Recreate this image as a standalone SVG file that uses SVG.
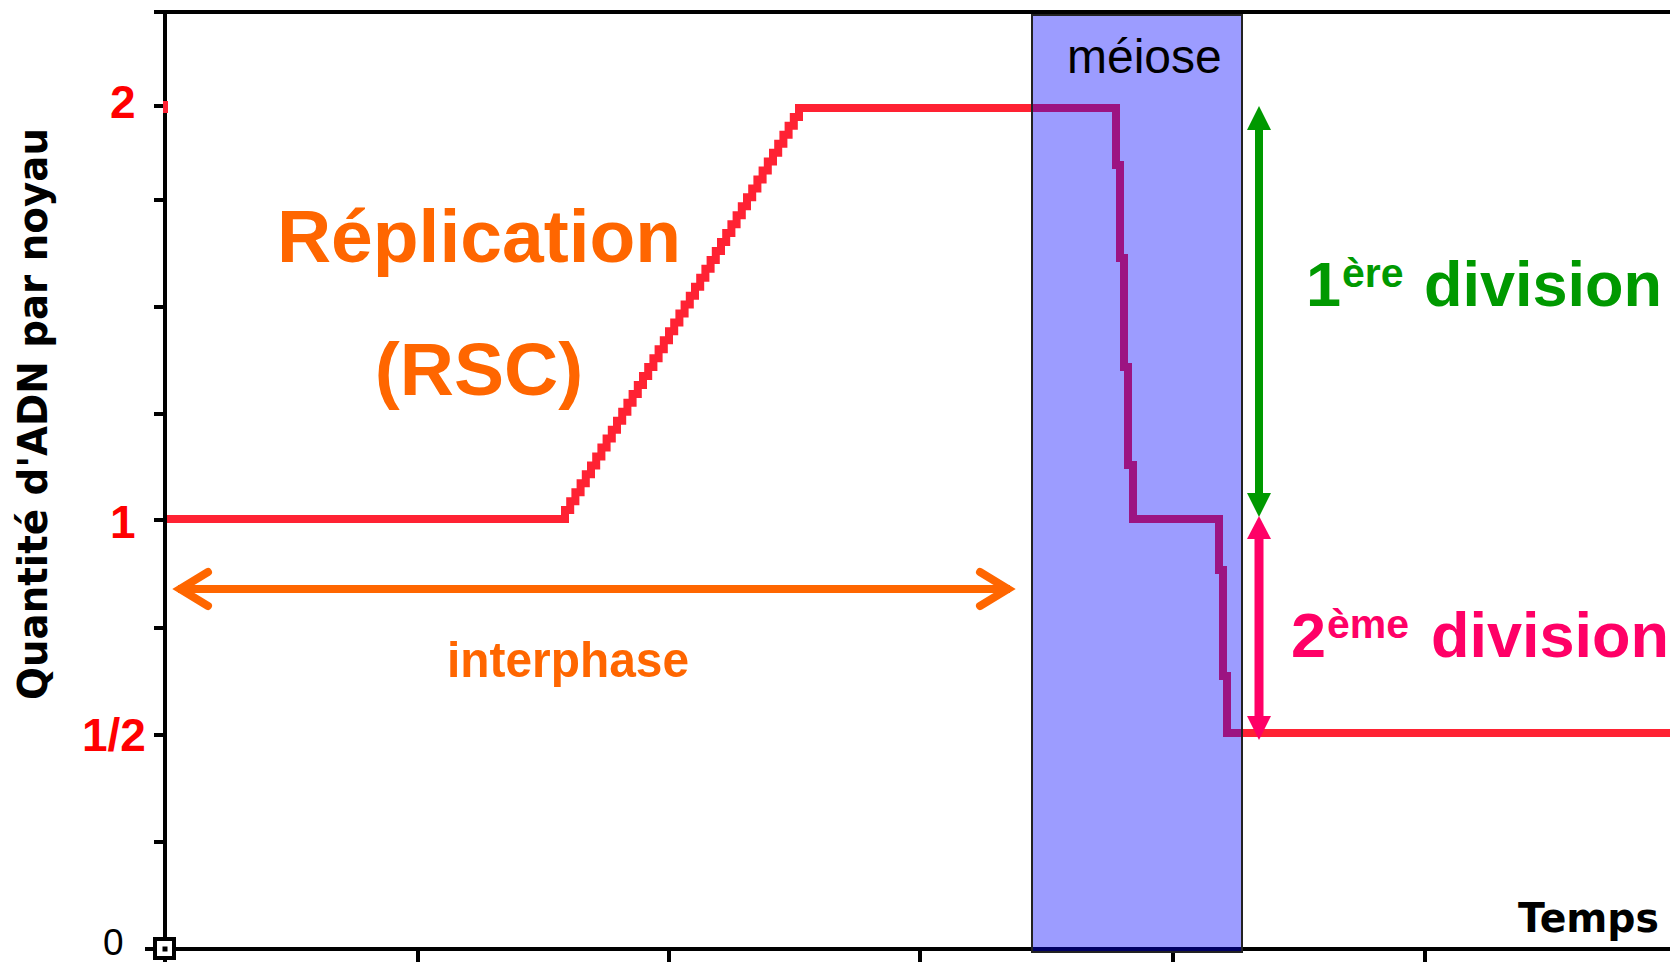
<svg xmlns="http://www.w3.org/2000/svg" width="1670" height="963" viewBox="0 0 1670 963">
<style>
.ax{stroke:#000;stroke-width:4;fill:none}
.tk{stroke:#000;stroke-width:4}
.lbl{font-family:"Liberation Sans",Arial,sans-serif;font-weight:bold;fill:#ff0000;font-size:46px}
.pix{font-family:"DejaVu Sans",sans-serif;font-weight:bold;fill:#000;font-size:40px}
.data{fill:none;stroke:#ff2233;stroke-width:8;stroke-linejoin:miter;stroke-linecap:butt}
.orange{font-family:"Liberation Sans",Arial,sans-serif;font-weight:bold;fill:#ff6600}
.big{font-family:"Liberation Sans",Arial,sans-serif;font-weight:bold}
</style>
<rect width="1670" height="963" fill="#fff"/>
<g id="axes">
<line class="ax" x1="154" y1="12" x2="1670" y2="12"/>
<line class="ax" x1="165" y1="10" x2="165" y2="962"/>
<line class="ax" x1="145" y1="949" x2="1670" y2="949"/>
<line class="tk" x1="154" y1="106" x2="165" y2="106"/>
<line class="tk" x1="154" y1="200" x2="165" y2="200"/>
<line class="tk" x1="154" y1="307" x2="165" y2="307"/>
<line class="tk" x1="154" y1="414" x2="165" y2="414"/>
<line class="tk" x1="154" y1="520" x2="165" y2="520"/>
<line class="tk" x1="154" y1="628" x2="165" y2="628"/>
<line class="tk" x1="154" y1="735" x2="165" y2="735"/>
<line class="tk" x1="154" y1="842" x2="165" y2="842"/>
<line class="tk" x1="418" y1="949" x2="418" y2="962"/>
<line class="tk" x1="669" y1="949" x2="669" y2="962"/>
<line class="tk" x1="920" y1="949" x2="920" y2="962"/>
<line class="tk" x1="1173" y1="949" x2="1173" y2="962"/>
<line class="tk" x1="1425" y1="949" x2="1425" y2="962"/>
<rect x="155" y="939" width="19" height="19" fill="#fff" stroke="#000" stroke-width="4"/>
<rect x="162.5" y="946.5" width="5" height="5" fill="#000"/>
<rect x="163" y="101" width="5" height="12" fill="#ff2233"/>
</g>
<g id="axis-labels">
<text class="lbl" x="110" y="118">2</text>
<text class="lbl" x="110" y="538">1</text>
<text class="lbl" x="82" y="751">1/2</text>
<text x="103" y="955" font-family="Liberation Sans,Arial,sans-serif" font-size="37" fill="#000">0</text>
<text class="pix" transform="translate(47,700) rotate(-90)" x="0" y="0" textLength="572" lengthAdjust="spacingAndGlyphs">Quantité d'ADN par noyau</text>
<text class="pix" x="1518" y="932" textLength="141" lengthAdjust="spacingAndGlyphs">Temps</text>
</g>
<g id="dna-curve">
<path class="data" d="M167 519 H565
v-8.935h5.2v-8.935h5.2v-8.935h5.2v-8.935h5.2v-8.935h5.2v-8.935h5.2v-8.935h5.2v-8.935h5.2v-8.935h5.2v-8.935h5.2
v-8.935h5.2v-8.935h5.2v-8.935h5.2v-8.935h5.2v-8.935h5.2v-8.935h5.2v-8.935h5.2v-8.935h5.2v-8.935h5.2v-8.935h5.2
v-8.935h5.2v-8.935h5.2v-8.935h5.2v-8.935h5.2v-8.935h5.2v-8.935h5.2v-8.935h5.2v-8.935h5.2v-8.935h5.2v-8.935h5.2
v-8.935h5.2v-8.935h5.2v-8.935h5.2v-8.935h5.2v-8.935h5.2v-8.935h5.2v-8.935h5.2v-8.935h5.2v-8.935h5.2v-8.935h5.2
v-8.935h5.2v-8.935h5.2v-8.935h5.2v-8.935h5.2v-8.935h5.2v-8.935h5.2
H1116 V165 H1120 V258 H1124 V367 H1128 V465 H1133 V519 H1219 V570 H1223 V676 H1227 V733 H1670"/>
</g>
<g id="meiose">
<rect x="1032" y="15" width="210" height="937" fill="#0000ff" fill-opacity="0.39" stroke="#222" stroke-width="2"/>
<text x="1067" y="73" font-family="Liberation Sans,Arial,sans-serif" font-size="48" fill="#000">méiose</text>
</g>
<g id="replication">
<text class="orange" x="479" y="262" font-size="75" text-anchor="middle">Réplication</text>
<text class="orange" x="479" y="395" font-size="75" text-anchor="middle">(RSC)</text>
</g>
<g id="interphase-label">
<text class="orange" x="447" y="677" font-size="50" textLength="242" lengthAdjust="spacingAndGlyphs">interphase</text>
</g>
<g id="division1-label">
<text class="big" fill="#009900" font-size="63"><tspan x="1306" y="306">1</tspan><tspan x="1342" y="287" font-size="41">ère</tspan><tspan x="1424" y="306">division</tspan></text>
</g>
<g id="division2-label">
<text class="big" fill="#ff0066" font-size="63"><tspan x="1291" y="657">2</tspan><tspan x="1327" y="638" font-size="41">ème</tspan><tspan x="1431" y="657">division</tspan></text>
</g>
<g id="connectors">
<g id="interphase-arrow" fill="none" stroke="#ff6600" stroke-width="8">
<line x1="178" y1="589" x2="1010" y2="589"/>
<polyline points="208,572 180,589 208,606" stroke-linecap="round" stroke-linejoin="miter"/>
<polyline points="980,572 1008,589 980,606" stroke-linecap="round" stroke-linejoin="miter"/>
</g>
<g id="division1-arrow">
<line x1="1259" y1="126" x2="1259" y2="496" stroke="#009900" stroke-width="8"/>
<polygon points="1259,106 1247,130 1271,130" fill="#009900"/>
<polygon points="1259,517 1247,493 1271,493" fill="#009900"/>
</g>
<g id="division2-arrow">
<line x1="1259" y1="535" x2="1259" y2="720" stroke="#ff0066" stroke-width="9"/>
<polygon points="1259,516 1247,539 1271,539" fill="#ff0066"/>
<polygon points="1259,740 1247,716 1271,716" fill="#ff0066"/>
</g>
</g>
</svg>
